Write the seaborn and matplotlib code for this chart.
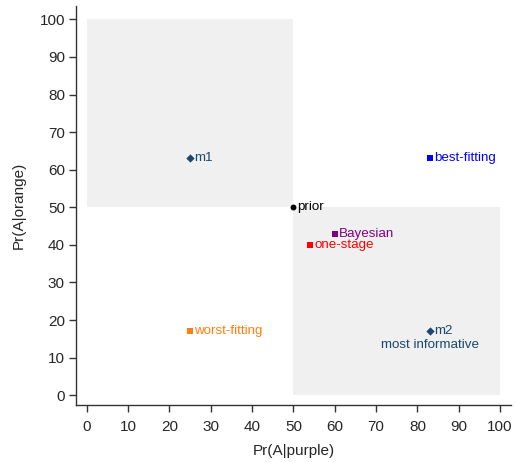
import pandas as pd
import seaborn as sns
import matplotlib.pyplot as plt
from matplotlib.patches import Rectangle

# points
labels = ["m1", "prior", "Bayesian", "one-stage", "best-fitting", "worst-fitting", "m2"]
x_vals = [25, 50, 60, 54, 83, 25, 83]
y_vals = [63, 50, 43, 40, 63, 17, 17]
markers = ["D", "o", "s", "s", "s", "s", "D"]
colors = ["#1a476f", "#000000", "#800080", "#ff0000", "#0000ff", "#ff7f0e", "#1a476f"]
ticks = list(range(0, 101, 10))

df = pd.DataFrame({"x": x_vals, "y": y_vals, "label": labels})

sns.set_style("white")
plt.rcParams["font.family"] = ["Liberation Sans", "DejaVu Sans"]

fig = plt.figure(figsize=(5.16, 4.62), dpi=100)
ax = fig.add_axes([0.1473, 0.1234, 0.8427, 0.864])

# shaded quadrants
ax.add_patch(Rectangle((0, 50), 50, 50, color="#f0f0f0", lw=0, zorder=0))
ax.add_patch(Rectangle((50, 0), 50, 50, color="#f0f0f0", lw=0, zorder=0))

for i, row in df.iterrows():
    sns.scatterplot(x=[row.x], y=[row.y], marker=markers[i], color=colors[i],
                    s=18, linewidth=0, ax=ax, zorder=3)
    ax.annotate(row.label, (row.x, row.y), xytext=(3, 0), textcoords="offset points",
                va="center", ha="left", fontsize=9.6, color=colors[i])
ax.annotate("most informative", (83, 17), xytext=(0, -10), textcoords="offset points",
            va="center", ha="center", fontsize=9.6, color="#1a476f")

ax.set_xlim(-2.6, 102.6)
ax.set_ylim(-2.6, 103.6)
ax.set_xticks(ticks)
ax.set_yticks(ticks)
ax.tick_params(axis="both", direction="out", length=5, width=1, color="#333333",
               labelsize=11, left=True, bottom=True)
ax.tick_params(axis="x", pad=6)
ax.tick_params(axis="y", pad=3)
for s in ["top", "right"]:
    ax.spines[s].set_visible(False)
for s in ["left", "bottom"]:
    ax.spines[s].set_color("#333333")
    ax.spines[s].set_linewidth(1)
ax.set_xlabel("Pr(A|purple)", fontsize=11, labelpad=7)
ax.set_ylabel("Pr(A|orange)", fontsize=11, labelpad=10)

fig.savefig("out.png", dpi=100)
